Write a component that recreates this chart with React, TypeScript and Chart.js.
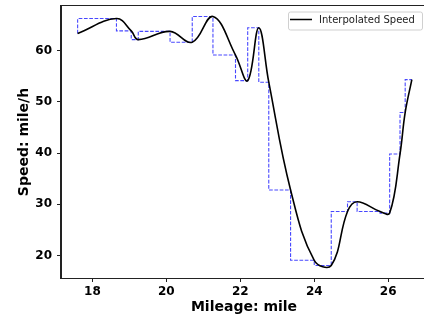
import React, { useEffect, useRef } from 'react';
import { Chart, registerables } from 'chart.js';

Chart.register(...registerables);

const mileage = [17.6, 18.65, 19.05, 19.24, 20.1, 20.7, 21.26, 21.87, 22.2, 22.5, 22.77, 23.36, 24.0, 24.46, 24.9, 25.16, 25.78, 26.04, 26.32, 26.46, 26.64];
const speed = [63.3, 66.2, 63.8, 62.1, 63.7, 61.6, 66.6, 59.1, 54.1, 64.4, 53.8, 32.8, 19.1, 18.1, 28.6, 30.5, 28.6, 28.3, 39.8, 47.9, 54.3];
const xTicks = [18, 20, 22, 24, 26];
const yTicks = [20, 30, 40, 50, 60];
const xTitle = 'Mileage: mile';
const yTitle = 'Speed: mile/h';
const legendLabel = 'Interpolated Speed';

const FONT = '"DejaVu Sans", sans-serif';

const decorPlugin = {
  id: 'decor',
  afterDraw(chart: any) {
    const { ctx, chartArea } = chart;
    const { left, right, top, bottom } = chartArea;
    ctx.save();
    // frame
    ctx.strokeStyle = '#222';
    ctx.lineWidth = 1;
    ctx.strokeRect(left - 0.5, top - 0.5, right - left + 1, bottom - top + 1);
    // titles
    ctx.fillStyle = '#000';
    ctx.font = `bold 14px ${FONT}`;
    ctx.textAlign = 'center';
    ctx.textBaseline = 'middle';
    ctx.fillText(xTitle, (left + right) / 2, 307);
    ctx.save();
    ctx.translate(24, (top + bottom) / 2);
    ctx.rotate(-Math.PI / 2);
    ctx.fillText(yTitle, 0, 0);
    ctx.restore();
    // legend
    const bx = 288, by = 11.5, bw = 134, bh = 18;
    ctx.beginPath();
    (ctx as any).roundRect(bx + 0.5, by + 0.5, bw, bh, 2);
    ctx.fillStyle = 'rgba(255,255,255,0.8)';
    ctx.fill();
    ctx.strokeStyle = '#d0d0d0';
    ctx.lineWidth = 1;
    ctx.stroke();
    ctx.beginPath();
    ctx.moveTo(290, 19.5);
    ctx.lineTo(312, 19.5);
    ctx.strokeStyle = '#000';
    ctx.lineWidth = 1.5;
    ctx.stroke();
    ctx.fillStyle = '#222';
    ctx.font = `10px ${FONT}`;
    ctx.textAlign = 'left';
    ctx.textBaseline = 'middle';
    ctx.fillText(legendLabel, 319, 20);
    ctx.restore();
  },
};

export default function App() {
  const ref = useRef<HTMLCanvasElement>(null);
  useEffect(() => {
    const points = mileage.map((x, i) => ({ x, y: speed[i] }));
    const chart = new Chart(ref.current!, {
      type: 'line',
      data: {
        datasets: [
          {
            label: legendLabel,
            data: points,
            borderColor: '#000',
            borderWidth: 1.6,
            pointRadius: 0,
            tension: 0.4,
            cubicInterpolationMode: 'default',
            fill: false,
          },
          {
            label: 'step',
            data: points,
            borderColor: 'rgba(0,0,255,0.72)',
            borderWidth: 1.1,
            borderDash: [3.7, 1.6],
            pointRadius: 0,
            stepped: 'after',
            fill: false,
          },
        ],
      },
      options: {
        animation: false,
        responsive: false,
        devicePixelRatio: 1,
        layout: { padding: { left: 0, top: 6, right: 3, bottom: 0 } },
        plugins: { legend: { display: false }, tooltip: { enabled: false } },
        scales: {
          x: {
            type: 'linear',
            min: 17.15,
            max: 27.05,
            afterFit(scale: any) { scale.height = 42; scale.paddingLeft = 0; scale.paddingRight = 0; },
            afterBuildTicks(scale: any) { scale.ticks = xTicks.map((v) => ({ value: v })); },
            grid: { display: true, drawOnChartArea: false, drawTicks: true, tickLength: 4, tickColor: '#222', tickWidth: 1 },
            border: { display: true, color: '#222', width: 1 },
            ticks: { color: '#000', font: { family: FONT, size: 12, weight: 'bold' }, padding: 3, maxRotation: 0, callback: (v: any) => String(v) },
          },
          y: {
            type: 'linear',
            min: 15.65,
            max: 68.65,
            afterFit(scale: any) { scale.width = 61; scale.paddingTop = 0; scale.paddingBottom = 0; },
            afterBuildTicks(scale: any) { scale.ticks = yTicks.map((v) => ({ value: v })); },
            grid: { display: true, drawOnChartArea: false, drawTicks: true, tickLength: 4, tickColor: '#222', tickWidth: 1 },
            border: { display: true, color: '#222', width: 1 },
            ticks: { color: '#000', font: { family: FONT, size: 12, weight: 'bold' }, padding: 5, callback: (v: any) => String(v) },
          },
        },
      } as any,
      plugins: [decorPlugin],
    });
    return () => chart.destroy();
  }, []);
  return (
    <div style={{ position: 'fixed', left: 0, top: 0, width: 424, height: 320, overflow: 'hidden', background: '#fff' }}>
      <canvas ref={ref} width={430} height={320} style={{ display: 'block' }} />
    </div>
  );
}
